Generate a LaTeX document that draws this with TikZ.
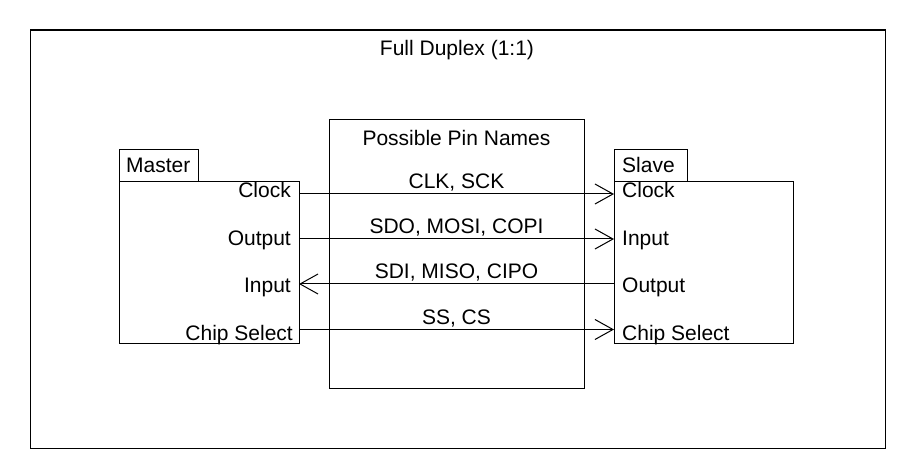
\documentclass[tikz,border=0pt]{standalone}
\usepackage{fontspec}
\setmainfont{Liberation Sans}
\usetikzlibrary{arrows.meta}
\begin{document}
\begin{tikzpicture}[x=1pt,y=-1pt,
  box/.style={draw,line width=1pt,inner sep=0pt,anchor=north west},
  lbl/.style={inner sep=0pt,font=\fontsize{21}{24}\selectfont},
  wire/.style={line width=1pt},
  arr/.style={line width=1pt,-{Straight Barb[length=18pt,width=20pt]}}]
\useasboundingbox (0,0) rectangle (911,473);
\fill[white] (0,0) rectangle (911,473);
% frame
\node[box,line width=1.4pt,minimum width=855pt,minimum height=418pt] (frame) at (29.5,29.5) {};
\node[lbl,anchor=base] (title) at (457,56) {Full Duplex (1:1)};
% master
\node[box,minimum width=79pt,minimum height=32pt] (mtab) at (119,149) {};
\node[box,minimum width=180pt,minimum height=162pt] (master) at (119,181) {};
\node[lbl,anchor=base west] (mname) at (126,173) {Master};
% slave
\node[box,minimum width=73pt,minimum height=32pt] (stab) at (614,149) {};
\node[box,minimum width=179pt,minimum height=162pt] (slave) at (614,181) {};
\node[lbl,anchor=base west] (sname) at (622,173) {Slave};
% pins box
\node[box,minimum width=255pt,minimum height=269pt] (pins) at (329,119) {};
\node[lbl,anchor=base] (pinstitle) at (456.5,146) {Possible Pin Names};
% master labels
\node[lbl,anchor=base east] (mclk) at (291,198) {Clock};
\node[lbl,anchor=base east] (mout) at (291,246) {Output};
\node[lbl,anchor=base east] (min) at (291,293) {Input};
\node[lbl,anchor=base east] (mcs) at (293,340.5) {Chip Select};
% slave labels
\node[lbl,anchor=base west] (sclk) at (622,198) {Clock};
\node[lbl,anchor=base west] (sin) at (622,246) {Input};
\node[lbl,anchor=base west] (sout) at (622,293) {Output};
\node[lbl,anchor=base west] (scs) at (622,340.5) {Chip Select};
% pin name labels
\node[lbl,anchor=base] (p1) at (456.5,189) {CLK, SCK};
\node[lbl,anchor=base] (p2) at (456.5,234) {SDO, MOSI, COPI};
\node[lbl,anchor=base] (p3) at (456.5,279) {SDI, MISO, CIPO};
\node[lbl,anchor=base] (p4) at (456.5,324) {SS, CS};
% connector ends
\coordinate (ma) at (299,194);
\coordinate (mb) at (299,239);
\coordinate (mc) at (299,284);
\coordinate (md) at (299,329.5);
\coordinate (sa) at (614,194);
\coordinate (sb) at (614,239);
\coordinate (sc) at (614,284);
\coordinate (sd) at (614,329.5);
\draw[arr] (ma) -- (sa);
\draw[arr] (mb) -- (sb);
\draw[arr] (sc) -- (mc);
\draw[arr] (md) -- (sd);
\end{tikzpicture}
\end{document}
